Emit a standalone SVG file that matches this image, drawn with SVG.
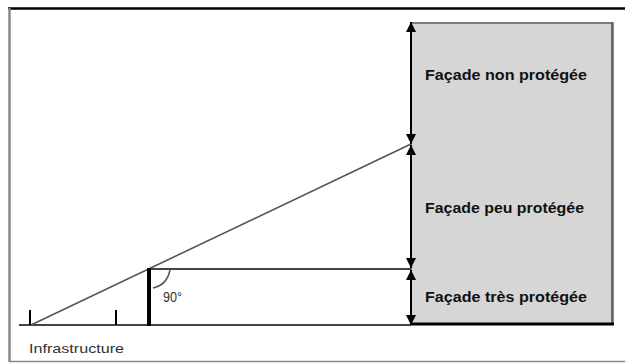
<svg xmlns="http://www.w3.org/2000/svg" width="625" height="363" viewBox="0 0 625 363">
<style>
.lbl{font-family:"Liberation Sans",Arial,sans-serif;font-size:15px;font-weight:bold;fill:#111}
.sm{font-family:"Liberation Sans",Arial,sans-serif;font-size:13px;fill:#333}
.gl{stroke:#444;stroke-width:2;fill:none}
.bk{stroke:#000;stroke-width:2;fill:none}
</style>
<defs>
<marker id="ah" viewBox="0 0 10 10" refX="10" refY="5" markerWidth="10" markerHeight="10" markerUnits="userSpaceOnUse" orient="auto-start-reverse">
<path d="M0,0 L10,5 L0,10 Z" fill="#000"/>
</marker>
</defs>
<rect width="625" height="363" fill="#fff"/>
<g id="frame">
<line x1="8" y1="8.5" x2="625" y2="8.5" stroke="#000" stroke-width="2.5"/>
<line x1="9.5" y1="8" x2="9.5" y2="362" stroke="#888" stroke-width="2.5"/>
<line x1="9" y1="361.5" x2="625" y2="361.5" stroke="#888" stroke-width="1.5"/>
</g>
<g id="facade">
<rect x="411" y="23" width="201" height="301" fill="#d6d6d6" stroke="#7a7a7a" stroke-width="2"/>
<line x1="612.5" y1="22" x2="612.5" y2="325" stroke="#666" stroke-width="2.5"/>
<line x1="411" y1="324" x2="614" y2="324" stroke="#000" stroke-width="3"/>
</g>
<g id="labels">
<text class="lbl" x="425" y="80" textLength="162" lengthAdjust="spacingAndGlyphs">Façade non protégée</text>
<text class="lbl" x="425" y="213" textLength="159" lengthAdjust="spacingAndGlyphs">Façade peu protégée</text>
<text class="lbl" x="425" y="302" textLength="162" lengthAdjust="spacingAndGlyphs">Façade très protégée</text>
<text class="sm" x="29" y="353" textLength="95" lengthAdjust="spacingAndGlyphs">Infrastructure</text>
<text class="sm" x="163" y="302" style="font-size:15px" textLength="19" lengthAdjust="spacingAndGlyphs">90°</text>
</g>
<g id="connectors">
<line class="gl" x1="19" y1="325" x2="411" y2="325"/>
<line class="gl" x1="150" y1="269" x2="411" y2="269"/>
<line x1="31" y1="325" x2="411" y2="144" stroke="#555" stroke-width="1.6"/>
<path d="M170,270 Q167,285 153,288" stroke="#555" stroke-width="1.5" fill="none"/>
<line class="bk" x1="30" y1="310" x2="30" y2="325"/>
<line class="bk" x1="116" y1="310" x2="116" y2="325"/>
<line x1="149" y1="268" x2="149" y2="326" stroke="#000" stroke-width="4"/>
<line class="bk" x1="411" y1="22" x2="411" y2="144" marker-start="url(#ah)" marker-end="url(#ah)"/>
<line class="bk" x1="411" y1="145" x2="411" y2="268" marker-start="url(#ah)" marker-end="url(#ah)"/>
<line class="bk" x1="411" y1="270" x2="411" y2="325" marker-start="url(#ah)" marker-end="url(#ah)"/>
</g>
</svg>
